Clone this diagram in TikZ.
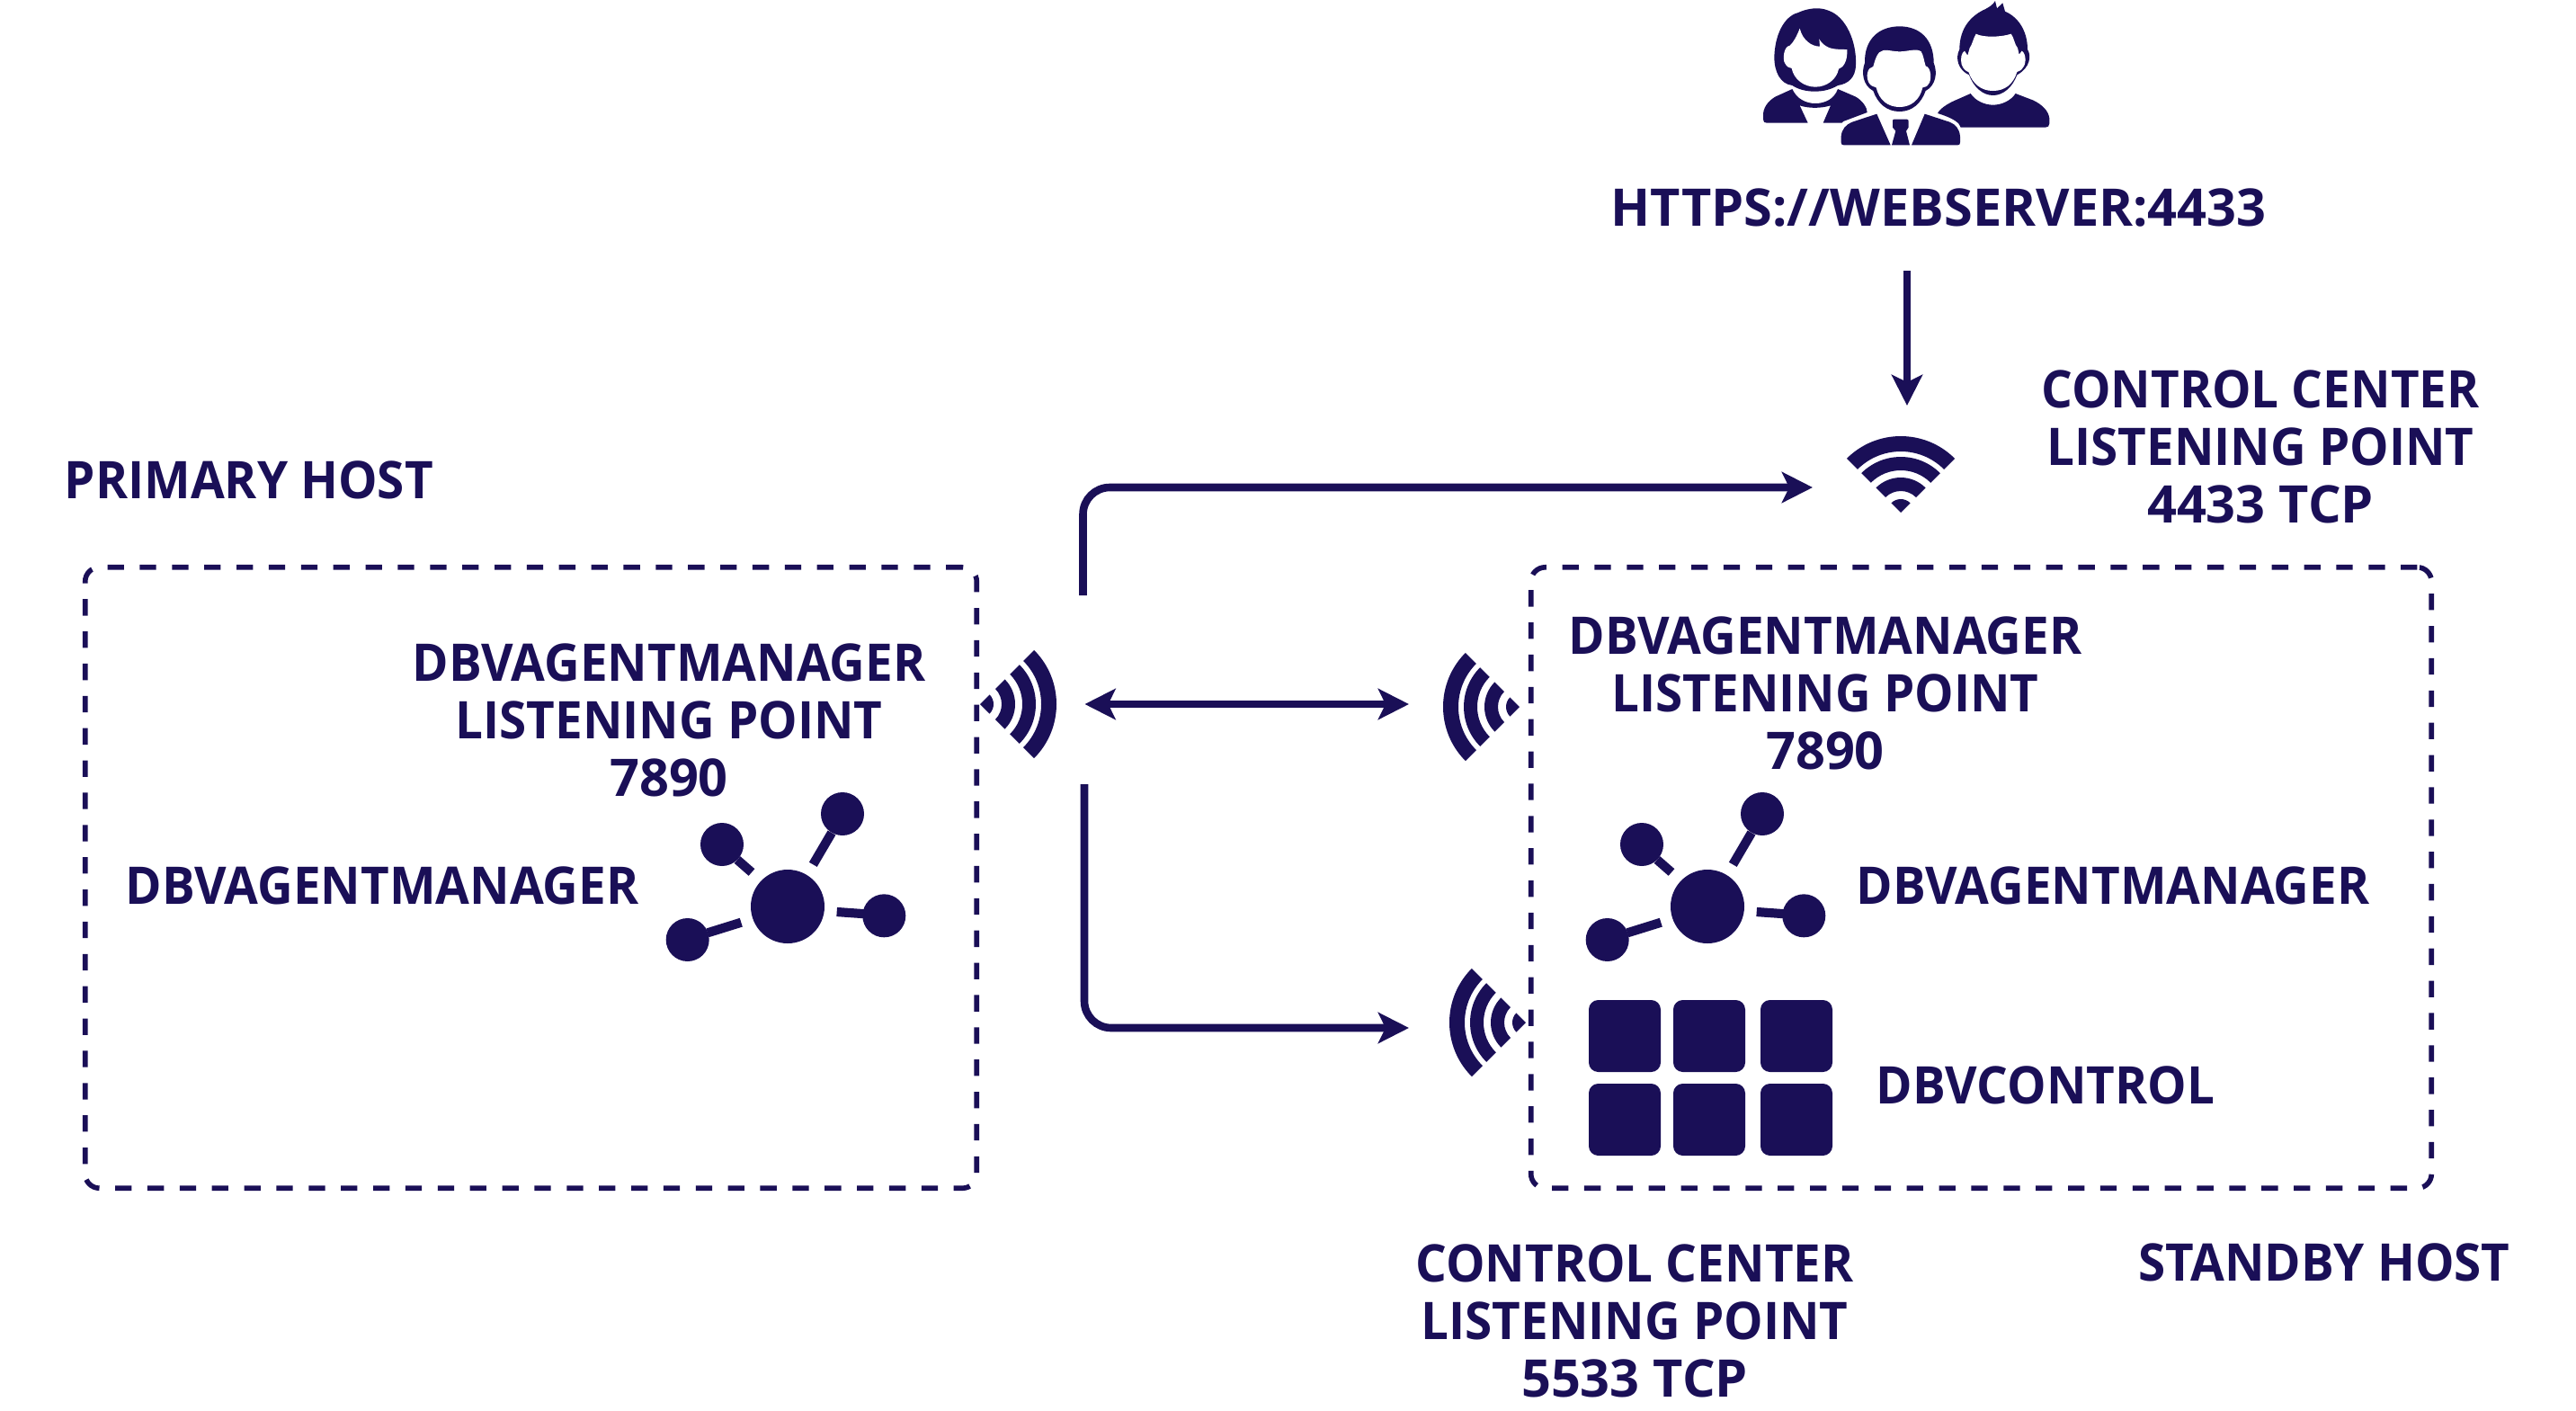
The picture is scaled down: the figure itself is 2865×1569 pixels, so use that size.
\documentclass[tikz,border=0pt]{standalone}
\usepackage{fontspec}
\setmainfont{Open Sans}[FakeStretch=0.95]
\newfontfamily\widetext{Open Sans}
\usetikzlibrary{arrows.meta}
\definecolor{dbvnavy}{HTML}{1A0F57}
\tikzset{
  every node/.append style={text=dbvnavy, font=\fontsize{16.4}{18.2}\selectfont\bfseries, inner sep=0pt},
  caption/.style={align=center},
  flow/.style={draw=dbvnavy, line width=2.45pt, rounded corners=8.5pt, -{Stealth[length=9.7pt,width=9.7pt,inset=2.3pt]}},
  both/.style={flow, {Stealth[length=9.7pt,width=9.7pt,inset=2.3pt]}-{Stealth[length=9.7pt,width=9.7pt,inset=2.3pt]}},
  hostbox/.style={draw=dbvnavy, line width=1.6pt, rounded corners=4.5pt, dash pattern=on 5.2pt off 5pt},
  wifi/.pic={
    \fill[dbvnavy] (0,0) -- (45:15) arc (45:135:15) -- cycle;
    \foreach \ri/\ro in {24/39,47/62,68/85}
      \fill[dbvnavy] (45:\ro) arc (45:135:\ro) -- (135:\ri) arc (135:45:\ri) -- cycle;
  },
  hub/.pic={
    \fill[dbvnavy] (0,0) circle (41);
    \foreach \sx/\sy in {61/103,-73/69,107.3/-10.3,-111.3/-37}
      \fill[dbvnavy] (\sx,\sy) circle (24);
    \draw[dbvnavy, line width=2.9pt] (28.3,46.7) -- (49,82);
    \draw[dbvnavy, line width=2.9pt] (-40,38) -- (-56,52);
    \draw[dbvnavy, line width=2.9pt] (54.7,-6) -- (87,-8.3);
    \draw[dbvnavy, line width=2.9pt] (-51.7,-17.7) -- (-89,-29.3);
  }
}
\begin{document}
\begin{tikzpicture}[x=0.01cm,y=0.01cm]
  \useasboundingbox (0,0) rectangle (2865,-1569);

  % users
  \begin{scope}[shift={(1900,0)},xscale=1/3,yscale=-1/3]
    \fill[dbvnavy] (300,42) .. controls (330,28) and (370,22) .. (400,35) .. controls (460,55) and (495,140) .. (492,215) .. controls (492,260) and (465,280) .. (432,285) .. controls (410,298) and (385,305) .. (355,305) .. controls (325,305) and (300,298) .. (280,285) .. controls (240,280) and (220,240) .. (220,190) .. controls (222,120) and (250,55) .. (300,42) -- cycle;
    \fill[white] (305,95) .. controls (295,120) and (285,140) .. (272,152) .. controls (250,155) and (248,200) .. (255,210) .. controls (262,225) and (270,225) .. (278,228) .. controls (285,265) and (320,290) .. (357,290) .. controls (395,290) and (428,265) .. (435,230) .. controls (450,225) and (465,205) .. (463,165) .. controls (440,165) and (410,165) .. (395,155) .. controls (385,150) and (375,140) .. (370,130) -- (372,155) .. controls (345,155) and (315,135) .. (305,95) -- cycle;
    \fill[dbvnavy] (280,297) .. controls (295,330) and (325,345) .. (357,345) .. controls (390,345) and (420,330) .. (432,297) -- (490,322) .. controls (515,335) and (530,360) .. (530,375) -- (450,405) -- (445,410) -- (383,410) -- (408,352) .. controls (375,362) and (335,362) .. (305,352) -- (332,410) -- (195,410) .. controls (187,410) and (183,406) .. (183,398) -- (183,380) .. controls (185,350) and (210,330) .. (225,322) -- cycle;

    \fill[dbvnavy] (522,210) .. controls (520,130) and (570,88) .. (638,88) .. controls (705,88) and (752,130) .. (752,210) .. controls (765,240) and (760,285) .. (725,303) .. controls (710,345) and (680,372) .. (638,372) .. controls (595,372) and (565,345) .. (550,303) .. controls (515,285) and (510,240) .. (522,210) -- cycle;
    \fill[white] (570,175) .. controls (585,160) and (610,172) .. (638,172) .. controls (665,172) and (695,160) .. (710,172) .. controls (718,185) and (720,205) .. (725,220) .. controls (745,225) and (745,270) .. (735,280) .. controls (730,290) and (722,290) .. (715,292) .. controls (705,335) and (675,357) .. (638,357) .. controls (600,357) and (570,335) .. (560,292) .. controls (550,290) and (540,285) .. (535,275) .. controls (525,255) and (530,225) .. (550,222) .. controls (555,205) and (560,185) .. (570,175) -- cycle;
    \fill[dbvnavy] (562,380) -- (608,484) -- (452,484) .. controls (446,484) and (443,481) .. (443,475) -- (443,455) .. controls (445,430) and (460,415) .. (480,407) -- cycle;
    \fill[dbvnavy] (722,380) -- (678,484) -- (832,484) .. controls (838,484) and (840,481) .. (840,475) -- (840,455) .. controls (838,430) and (825,415) .. (805,407) -- cycle;
    \fill[dbvnavy] (620,398) -- (662,398) .. controls (666,398) and (668,400) .. (668,405) -- (668,425) -- (660,437) -- (672,484) -- (612,484) -- (625,437) -- (615,425) -- (615,405) .. controls (615,400) and (616,398) .. (620,398) -- cycle;

    \fill[dbvnavy] (838,165) .. controls (838,90) and (880,50) .. (925,30) .. controls (940,22) and (950,15) .. (957,3) -- (963,28) -- (982,10) -- (990,38) .. controls (1040,60) and (1065,110) .. (1065,165) .. controls (1078,185) and (1075,225) .. (1030,250) .. controls (1015,290) and (985,318) .. (950,318) .. controls (915,318) and (885,290) .. (870,250) .. controls (835,235) and (822,195) .. (838,165) -- cycle;
    \fill[white] (893,113) .. controls (915,125) and (975,125) .. (1010,113) .. controls (1020,125) and (1022,150) .. (1032,160) -- (1037,182) -- (1046,170) .. controls (1062,180) and (1060,215) .. (1050,225) .. controls (1045,235) and (1035,238) .. (1030,240) .. controls (1018,280) and (990,303) .. (950,303) .. controls (910,303) and (882,280) .. (868,240) .. controls (860,238) and (850,230) .. (845,215) .. controls (840,195) and (845,175) .. (855,170) -- (865,185) -- (872,160) .. controls (880,150) and (885,125) .. (893,113) -- cycle;
    \fill[dbvnavy] (875,312) .. controls (890,335) and (920,350) .. (950,350) .. controls (980,350) and (1010,335) .. (1025,312) -- (1085,335) .. controls (1115,350) and (1135,370) .. (1138,395) -- (1138,412) .. controls (1138,420) and (1133,425) .. (1125,425) -- (842,425) .. controls (838,410) and (820,395) .. (765,378) .. controls (775,358) and (810,340) .. (830,332) -- cycle;
  \end{scope}

  \node (web) at (2156,-231) {\widetext HTTPS://WEBSERVER:4433};
  \node[caption] (ccTop) at (2514,-497) {CONTROL CENTER\\LISTENING POINT\\{\widetext 4433 TCP}};
  \node (primaryName) [anchor=west] at (71,-534) {PRIMARY HOST};
  \node[caption] (listenLeft) at (744,-801) {DBVAGENTMANAGER\\LISTENING POINT\\{\widetext 7890}};
  \node (agentLeft) at (425,-985) {DBVAGENTMANAGER};
  \node[caption] (listenRight) at (2030,-771) {DBVAGENTMANAGER\\LISTENING POINT\\{\widetext 7890}};
  \node (agentRight) at (2350,-985) {DBVAGENTMANAGER};
  \node (control) at (2275,-1207) {DBVCONTROL};
  \node[caption] (ccBottom) at (1818,-1469) {CONTROL CENTER\\LISTENING POINT\\{\widetext 5533 TCP}};
  \node (standbyName) at (2585,-1404) {STANDBY HOST};

  \node[hostbox, minimum width=9.91cm, minimum height=6.9cm] (primary) at (590.5,-976) {};
  \node[hostbox, minimum width=10.01cm, minimum height=6.9cm] (standby) at (2203.5,-976) {};

  \pic at (2114,-570) {wifi};
  \pic[rotate=-90] at (1090,-783) {wifi};
  \pic[rotate=90] at (1690,-786) {wifi};
  \pic[rotate=90] at (1697,-1137) {wifi};

  \pic at (876,-1008) {hub};
  \pic at (1899,-1008) {hub};

  \foreach \tx in {1807,1901,1998}
    \foreach \ty in {-1152,-1245}
      \fill[dbvnavy, rounded corners=3pt] (\tx-40,\ty-40) rectangle (\tx+40,\ty+40);

  \coordinate (webEnd) at (2121,-301);
  \coordinate (webTip) at (2121,-451);
  \coordinate (upStart) at (1204.5,-662);
  \coordinate (upTip) at (2016,-542);
  \coordinate (midLeft) at (1206.5,-783);
  \coordinate (midRight) at (1567,-783);
  \coordinate (downStart) at (1206,-872);
  \coordinate (downTip) at (1567,-1143);

  \draw[flow] (webEnd) -- (webTip);
  \draw[flow] (upStart) |- (upTip);
  \draw[both] (midLeft) -- (midRight);
  \draw[flow] (downStart) |- (downTip);
\end{tikzpicture}
\end{document}
